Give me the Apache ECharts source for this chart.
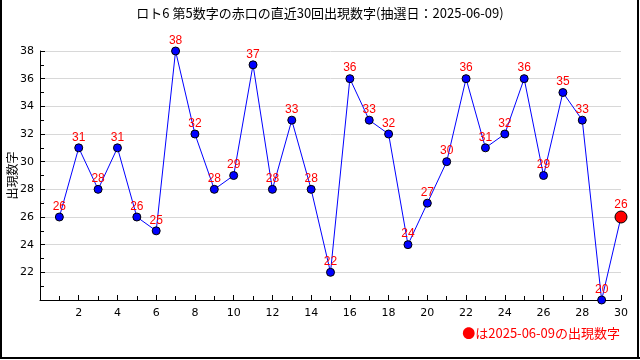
<!DOCTYPE html>
<html><head><meta charset="utf-8">
<script src="https://cdn.jsdelivr.net/npm/echarts@6/dist/echarts.min.js"></script>
<style>html,body{margin:0;padding:0;background:#fff}#c{width:640px;height:360px}</style>
</head><body><div id="c"></div>
<script>
const titleText = 'ロト6 第5数字の赤口の直近30回出現数字(抽選日：2025-06-09)';
const yAxisName = '出現数字';
const legendText = '●は2025-06-09の出現数字';
const draws = [1,2,3,4,5,6,7,8,9,10,11,12,13,14,15,16,17,18,19,20,21,22,23,24,25,26,27,28,29,30];
const values = [26,31,28,31,26,25,38,32,28,29,37,28,33,28,22,36,33,32,24,27,30,36,31,32,36,29,35,33,20,26];

const chart = echarts.init(document.getElementById('c'), null, {renderer:'canvas'});
const data = values.map((v,i) => {
  const item = {value:[draws[i], v]};
  if (i === values.length - 1) {
    item.symbolSize = 12;
    item.itemStyle = {color:'#ff0000', borderColor:'#000', borderWidth:1};
  }
  return item;
});
chart.setOption({
  animation:false,
  title:{text:titleText, left:'center', top:2,
    textStyle:{fontFamily:'Noto Sans CJK JP', fontSize:13, fontWeight:'normal', color:'#000'}},
  grid:{left:40, right:19, top:51, bottom:60, containLabel:false, outerBoundsMode:'none'},
  xAxis:{type:'value', min:0, max:30, interval:2,
    axisLine:{lineStyle:{color:'#000', width:1}},
    axisTick:{inside:true, length:5, lineStyle:{color:'#000'}},
    minorTick:{show:true, splitNumber:2, length:4, lineStyle:{color:'#000'}},
    axisLabel:{color:'#000', fontSize:11, fontFamily:'DejaVu Sans', margin:8,
      formatter:v => v === 0 ? '' : String(v)},
    splitLine:{show:false}},
  yAxis:{type:'value', min:20, max:38, interval:2,
    name:yAxisName, nameLocation:'middle', nameGap:22, nameRotate:90, nameMoveOverlap:false,
    nameTextStyle:{fontFamily:'Noto Sans CJK JP', fontSize:12, color:'#000'},
    axisLine:{show:true, lineStyle:{color:'#000', width:1}},
    axisTick:{show:true, inside:true, length:5, lineStyle:{color:'#000'}},
    minorTick:{show:true, splitNumber:2, length:4, lineStyle:{color:'#000'}},
    axisLabel:{color:'#000', fontSize:11, fontFamily:'DejaVu Sans', margin:6,
      formatter:v => v === 20 ? '' : String(v)},
    splitLine:{show:true, lineStyle:{color:'#d8d8d8', width:1}}},
  series:[{
    type:'line', data:data, symbol:'circle', symbolSize:8,
    lineStyle:{color:'#0000ff', width:1},
    itemStyle:{color:'#0000ff', borderColor:'#000', borderWidth:1},
    label:{show:true, position:'top', distance:0, color:'#ff0000', fontSize:12,
      fontFamily:'Liberation Sans', formatter:p => String(p.value[1])}
  }],
  graphic:[
    {type:'text', right:20, top:327, style:{text:legendText, fill:'#ff0000',
      font:'13px "Noto Sans CJK JP"'}},
    {type:'line', shape:{x1:1, y1:0, x2:1, y2:359}, style:{stroke:'#000', lineWidth:2}},
    {type:'line', shape:{x1:638, y1:0, x2:638, y2:359}, style:{stroke:'#000', lineWidth:2}},
    {type:'line', shape:{x1:0, y1:358, x2:640, y2:358}, style:{stroke:'#000', lineWidth:2}}
  ]
});
</script></body></html>
